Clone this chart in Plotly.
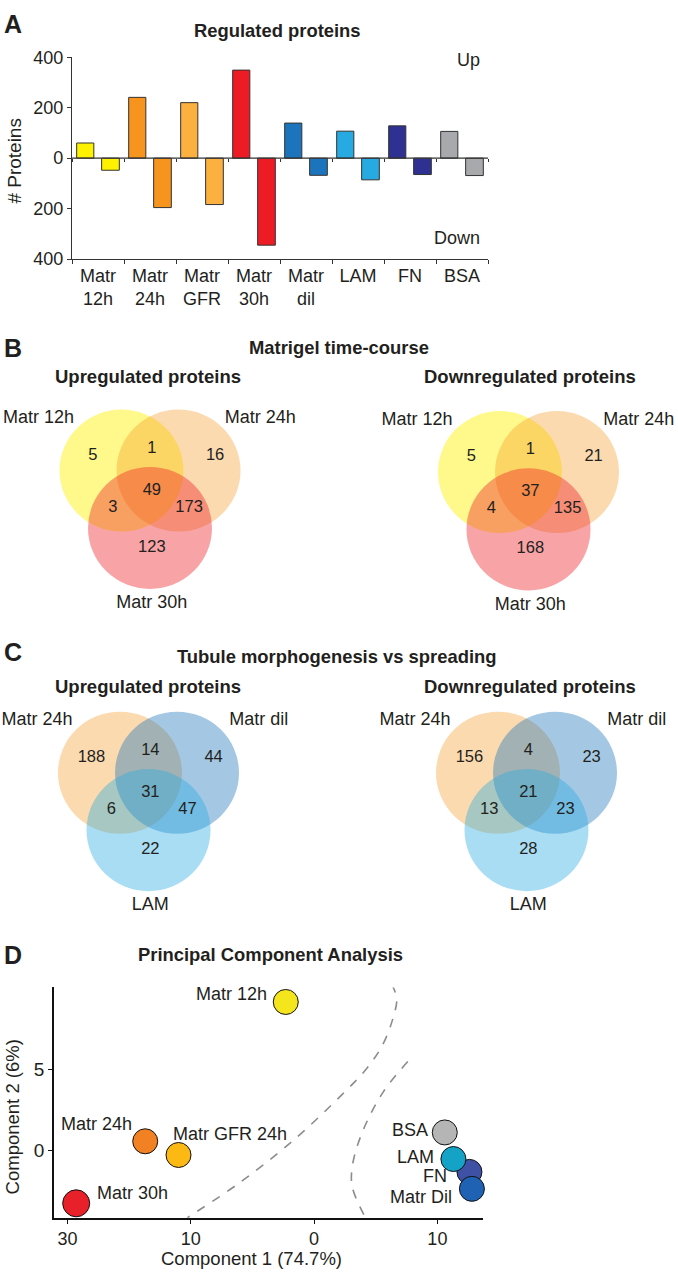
import plotly.graph_objects as go

W, H = 678, 1279
FONT = "Liberation Sans, Arial, sans-serif"
TXT = "#231f20"
AX = "#333333"


def px(x):
    return x / W


def py(y):
    return 1 - y / H


# ---------------- Panel A data ----------------
bar_categories = ["Matr<br>12h", "Matr<br>24h", "Matr<br>GFR", "Matr<br>30h",
                  "Matr<br>dil", "LAM", "FN", "BSA"]
up_counts = [60, 241, 220, 349, 139, 107, 128, 106]
down_counts = [48, 196, 184, 345, 68, 86, 65, 69]
bar_colors = ["#fff200", "#f7941d", "#fbb040", "#ed1c24",
              "#1c75bc", "#27aae1", "#2e3192", "#a7a9ac"]
bar_tickvals = [-400, -200, 0, 200, 400]
bar_ticktext = ["400", "200", "0", "200", "400"]

# ---------------- Venn data ----------------
# region order: A only, A&B, B only, A&B&C, A&C, B&C, C only
venn_b_up = [5, 1, 16, 49, 3, 173, 123]
venn_b_down = [5, 1, 21, 37, 4, 135, 168]
venn_c_up = [188, 14, 44, 31, 6, 47, 22]
venn_c_down = [156, 4, 23, 21, 13, 23, 28]
venn_b_sets = ["Matr 12h", "Matr 24h", "Matr 30h"]
venn_c_sets = ["Matr 24h", "Matr dil", "LAM"]

# ---------------- PCA data ----------------
pca_labels = ["Matr 12h", "Matr 24h", "Matr GFR 24h", "Matr 30h",
              "FN", "LAM", "Matr Dil", "BSA"]
pca_pc1 = [-2.3, -13.7, -11.0, -19.3, 12.6, 11.3, 12.8, 10.6]
pca_pc2 = [9.2, 0.55, -0.3, -3.3, -1.35, -0.55, -2.4, 1.1]
pca_colors = ["#f5e51d", "#f28123", "#fcb813", "#e8202a",
              "#3f51a5", "#14a3c7", "#1f62b4", "#b5b5b5"]
pca_x_tickvals = [-20, -10, 0, 10]
pca_x_ticktext = ["30", "10", "0", "10"]
boundary1_x = [6.3, 6.7, 6.4, 5.6, 4.3, 2.2, -1.7, -6.0, -10.3]
boundary1_y = [10.3, 9.4, 8.2, 6.6, 5.1, 3.4, 0.6, -2.0, -4.2]
boundary2_x = [7.6, 5.6, 3.9, 3.1, 3.1, 4.1]
boundary2_y = [5.5, 3.6, 1.1, -1.0, -2.3, -4.1]

fig = go.Figure()
annotations = []
shapes = []


def ann(text, x, y, size=18, bold=False, xanchor="center", **kw):
    t = f"<b>{text}</b>" if bold else text
    annotations.append(dict(text=t, x=px(x), y=py(y), xref="paper", yref="paper",
                            xanchor=xanchor, yanchor="middle", showarrow=False,
                            font=dict(family=FONT, size=size, color=TXT), **kw))


# ---------------- Panel A ----------------
fig.add_trace(go.Bar(x=bar_categories, y=up_counts, offset=-0.41, width=0.33,
                     marker=dict(color=bar_colors, line=dict(color=AX, width=1)),
                     xaxis="x", yaxis="y", showlegend=False, hoverinfo="skip"))
fig.add_trace(go.Bar(x=bar_categories, y=[-v for v in down_counts], offset=0.07, width=0.34,
                     marker=dict(color=bar_colors, line=dict(color=AX, width=1)),
                     xaxis="x", yaxis="y", showlegend=False, hoverinfo="skip"))
fig.add_trace(go.Scatter(x=[-0.5, 7.5], y=[0, 0], mode="lines",
                         line=dict(color=AX, width=1.2), xaxis="x2", yaxis="y",
                         showlegend=False, hoverinfo="skip"))

A_top, A_bot, A_left, A_right = 48, 253, 72, 488
ann("A", 2, 14, size=25, bold=True, xanchor="left")
ann("Regulated proteins", 277, 21, size=18.4, bold=True)
ann("Up", 482, 51, xanchor="right")
ann("Down", 482, 232, xanchor="right")
ann("# Proteins", 15, 153, size=19, textangle=-90)

# ---------------- Venn diagrams ----------------
R = 62.0
region_pos = [(-0.92, 0.71), (0.03, 0.83), (1.05, 0.71), (0.03, 0.14),
              (-0.6, -0.14), (0.63, -0.14), (0.03, -0.79)]
circle_pos = [(-0.46, 0.47), (0.46, 0.47), (0.0, -0.47)]
label_pos = [(-1.8, 1.32), (1.78, 1.32), (0.03, -1.71)]
HW, HH = 2.3, 2.0

venns = [
    (venn_b_up, venn_b_sets, 150, 497,
     ["rgba(255,242,0,0.45)", "rgba(247,148,29,0.35)", "rgba(237,28,36,0.40)"]),
    (venn_b_down, venn_b_sets, 528.5, 498.5,
     ["rgba(255,242,0,0.45)", "rgba(247,148,29,0.35)", "rgba(237,28,36,0.40)"]),
    (venn_c_up, venn_c_sets, 148.5, 804,
     ["rgba(247,148,29,0.35)", "rgba(28,117,188,0.40)", "rgba(39,170,225,0.40)"]),
    (venn_c_down, venn_c_sets, 526.5, 804,
     ["rgba(247,148,29,0.35)", "rgba(28,117,188,0.40)", "rgba(39,170,225,0.40)"]),
]

layout_axes = {}
for i, (counts, sets, cx, cy, fills) in enumerate(venns):
    n = i + 3
    xa, ya = f"x{n}", f"y{n}"
    layout_axes[f"xaxis{n}"] = dict(domain=[px(cx - HW * R), px(cx + HW * R)],
                                    range=[-HW, HW], visible=False, anchor=ya,
                                    fixedrange=True)
    layout_axes[f"yaxis{n}"] = dict(domain=[py(cy + HH * R), py(cy - HH * R)],
                                    range=[-HH, HH], visible=False, anchor=xa,
                                    fixedrange=True)
    for (ccx, ccy), fc in zip(circle_pos, fills):
        shapes.append(dict(type="circle", xref=xa, yref=ya,
                           x0=ccx - 1, x1=ccx + 1, y0=ccy - 1, y1=ccy + 1,
                           fillcolor=fc, line=dict(width=0), layer="below"))
    fig.add_trace(go.Scatter(x=[p[0] for p in region_pos], y=[p[1] for p in region_pos],
                             text=[str(c) for c in counts], mode="text", cliponaxis=False,
                             textfont=dict(family=FONT, size=16.5, color=TXT),
                             xaxis=xa, yaxis=ya, showlegend=False, hoverinfo="skip"))
    fig.add_trace(go.Scatter(x=[p[0] for p in label_pos], y=[p[1] for p in label_pos],
                             text=sets, mode="text", cliponaxis=False,
                             textfont=dict(family=FONT, size=18, color=TXT),
                             xaxis=xa, yaxis=ya, showlegend=False, hoverinfo="skip"))

ann("B", 2, 343, size=25, bold=True, xanchor="left")
ann("Matrigel time-course", 339, 343, size=18.4, bold=True)
ann("Upregulated proteins", 148, 372, size=18.5, bold=True)
ann("Downregulated proteins", 530, 372, size=18.5, bold=True)
ann("C", 2, 652, size=25, bold=True, xanchor="left")
ann("Tubule morphogenesis vs spreading", 337, 657, size=18.4, bold=True)
ann("Upregulated proteins", 148, 687, size=18.5, bold=True)
ann("Downregulated proteins", 530, 687, size=18.5, bold=True)

# ---------------- Panel D (PCA) ----------------
for bx, by in [(boundary1_x, boundary1_y), (boundary2_x, boundary2_y)]:
    fig.add_trace(go.Scatter(x=bx, y=by, mode="lines",
                             line=dict(color="#8c8c8c", width=1.6, dash="dash", shape="spline"),
                             xaxis="x7", yaxis="y7", showlegend=False, hoverinfo="skip"))
fig.add_trace(go.Scatter(x=pca_pc1, y=pca_pc2, mode="markers", cliponaxis=False,
                         marker=dict(size=[25, 25, 25, 27, 25, 25, 25, 25], color=pca_colors,
                                     opacity=1, line=dict(color="#111111", width=1)),
                         xaxis="x7", yaxis="y7", showlegend=False, hoverinfo="skip"))

label_offsets = {
    "Matr 12h": ("right", -17, 8),
    "Matr 24h": ("right", -11, 17),
    "Matr GFR 24h": ("left", -8, 21),
    "Matr 30h": ("left", 19, 10),
    "BSA": ("right", -15, 2),
    "LAM": ("right", -17, 2),
    "FN": ("right", -20, -4),
    "Matr Dil": ("right", -18, -8),
}
for lab, xv, yv in zip(pca_labels, pca_pc1, pca_pc2):
    anc, dx, dy = label_offsets[lab]
    annotations.append(dict(text=lab, x=xv, y=yv, xref="x7", yref="y7",
                            xanchor=anc, yanchor="middle", xshift=dx, yshift=dy,
                            showarrow=False, font=dict(family=FONT, size=18, color=TXT)))

ann("D", 2, 960, size=25, bold=True, xanchor="left")
ann("Principal Component Analysis", 270, 960, size=18.4, bold=True)
ann("Component 2 (6%)", 12, 1125, size=18.5, textangle=-90)
ann("Component 1 (74.7%)", 251, 1268.5, size=18.5)

layout_axes.update(dict(
    xaxis=dict(domain=[px(A_left), px(A_right)], anchor="y", type="category",
               showline=True, linecolor=AX, linewidth=1.2, ticks="outside",
               tickson="boundaries", ticklen=4, tickcolor=AX, showgrid=False,
               tickfont=dict(family=FONT, size=18, color=TXT), fixedrange=True),
    xaxis2=dict(overlaying="x", anchor="free", position=py((A_top + A_bot) / 2),
                range=[-0.5, 7.5], tickvals=[i - 0.5 for i in range(9)],
                ticks="outside", ticklen=3, tickcolor=AX, showticklabels=False,
                showline=False, showgrid=False, zeroline=False, fixedrange=True),
    yaxis=dict(domain=[py(A_bot), py(A_top)], anchor="x", range=[-400, 400],
               tickvals=bar_tickvals, ticktext=bar_ticktext, showline=True,
               linecolor=AX, linewidth=1.2, ticks="outside", ticklen=4, tickcolor=AX,
               showgrid=False, zeroline=False,
               tickfont=dict(family=FONT, size=18, color=TXT), fixedrange=True),
    xaxis7=dict(domain=[px(54), px(483)], anchor="y7", range=[-21.1, 13.7],
                tickvals=pca_x_tickvals, ticktext=pca_x_ticktext, showline=True,
                linecolor="#111111", linewidth=1.5, ticks="outside", ticklen=4,
                tickcolor="#111111", showgrid=False, zeroline=False,
                tickfont=dict(family=FONT, size=18, color=TXT), fixedrange=True),
    yaxis7=dict(domain=[py(1227), py(993)], anchor="x7", range=[-4.2, 10.1],
                tickvals=[0, 5], showline=True, linecolor="#111111", linewidth=1.5,
                ticks="outside", ticklen=4, tickcolor="#111111", showgrid=False,
                zeroline=False, tickfont=dict(family=FONT, size=19, color=TXT),
                fixedrange=True),
))

fig.update_layout(
    width=W, height=H,
    margin=dict(l=0, r=0, t=0, b=0),
    paper_bgcolor="white", plot_bgcolor="white",
    barmode="overlay", showlegend=False,
    font=dict(family=FONT, color=TXT),
    annotations=annotations, shapes=shapes,
    **layout_axes,
)

fig.write_html(
    "out.html",
    config={"displayModeBar": False},
    post_script=("document.documentElement.style.margin='0';"
                 "document.body.style.margin='0';document.body.style.padding='0';"
                 "document.documentElement.style.overflow='hidden';"
                 "document.body.style.overflow='hidden';"),
)
